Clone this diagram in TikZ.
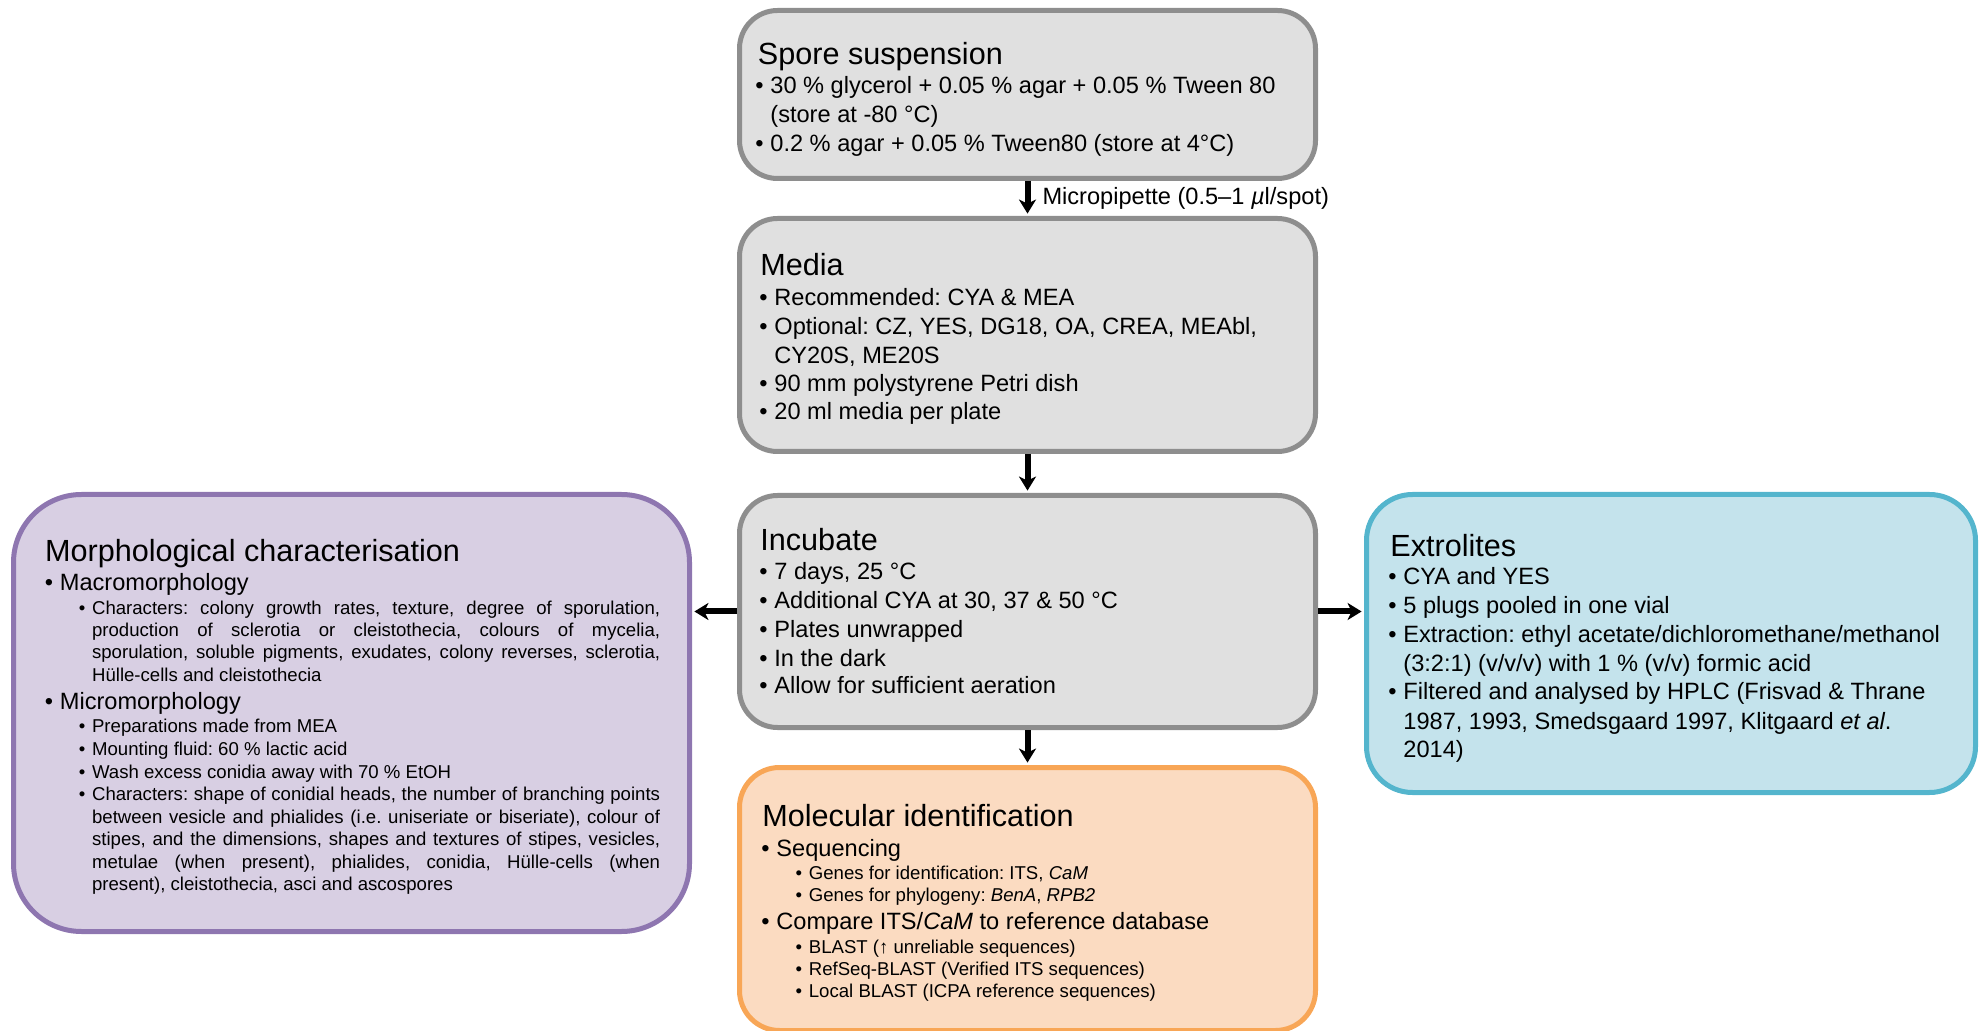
\documentclass[tikz,border=0pt]{standalone}
\usepackage{fontspec}
\setmainfont{Liberation Sans}
\usetikzlibrary{arrows.meta}
\definecolor{grayfill}{HTML}{E0E0E0}
\definecolor{grayline}{HTML}{8E8E8E}
\definecolor{purfill}{HTML}{D8CFE3}
\definecolor{purline}{HTML}{8E76B0}
\definecolor{bluefill}{HTML}{C4E3EC}
\definecolor{blueline}{HTML}{54B5CD}
\definecolor{orfill}{HTML}{FBDBC1}
\definecolor{orline}{HTML}{F8A656}
\frenchspacing
\newcommand\bul{\llap{\textbullet\hspace{0.29em}}}
\newcommand\sbul{\llap{\textbullet\hspace{0.36em}}}
\newcommand\jl[1]{\makebox[284pt][s]{#1}}
\tikzset{
  box/.style={draw, rounded corners=#1, line width=2.5pt, inner sep=0pt},
  ttl/.style={anchor=base west, inner sep=0pt, font=\fontsize{15.3}{18}\selectfont},
  bd/.style={anchor=base west, inner sep=0pt, font=\fontsize{11.8}{14}\selectfont},
  sm/.style={anchor=base west, inner sep=0pt, font=\fontsize{9.3}{11}\selectfont},
  arr/.style={line width=3pt, shorten >=1.2pt, -{Stealth[length=7pt,width=8.5pt,inset=2pt]}},
  lbl/.style={anchor=west, inner sep=0pt, xshift=6pt, font=\fontsize{11.8}{14}\selectfont}
}
\begin{document}
\begin{tikzpicture}[x=0.5pt,y=-0.5pt]
\useasboundingbox (0,0) rectangle (1987,1031);
% boxes
\node[box=19pt, fill=grayfill, draw=grayline, minimum width=288pt, minimum height=84pt] (spore) at (1027.5,94.5) {};
\node[box=19pt, fill=grayfill, draw=grayline, minimum width=288pt, minimum height=116.5pt] (media) at (1027.5,335) {};
\node[box=19pt, fill=grayfill, draw=grayline, minimum width=288pt, minimum height=116pt] (inc) at (1027.5,611.5) {};
\node[box=20pt, fill=orfill, draw=orline, minimum width=288pt, minimum height=131.5pt] (mol) at (1027.5,899) {};
\node[box=34pt, fill=purfill, draw=purline, minimum width=338pt, minimum height=218.5pt] (morph) at (351.5,713) {};
\node[box=23pt, fill=bluefill, draw=blueline, minimum width=304.5pt, minimum height=149pt] (ext) at (1671,643.5) {};
% arrows
\draw[arr] (spore) -- node[lbl] (lab) {Micropipette (0.5–1 \textit{µ}l/spot)} (media);
\draw[arr] (media) -- (inc);
\draw[arr] (inc) -- (mol);
\draw[arr] (inc.west) -- (inc.west -| morph.east);
\draw[arr] (inc.east) -- (inc.east -| ext.west);
% spore text
\node[ttl] (sp0) at (757.5,65) {Spore suspension};
\node[bd] (sp1) at (770,94) {\bul 30 \% glycerol + 0.05 \% agar + 0.05 \% Tween 80};
\node[bd] (sp2) at (770,123) {(store at -80 °C)};
\node[bd] (sp3) at (770,151.5) {\bul 0.2 \% agar + 0.05 \% Tween80 (store at 4°C)};
% media text
\node[ttl] (me0) at (760,276) {Media};
\node[bd] (me1) at (774,306) {\bul Recommended: CYA \& MEA};
\node[bd] (me2) at (774,335) {\bul Optional: CZ, YES, DG18, OA, CREA, MEAbl,};
\node[bd] (me3) at (774,364) {CY20S, ME20S};
\node[bd] (me4) at (774,392) {\bul 90 mm polystyrene Petri dish};
\node[bd] (me5) at (774,420) {\bul 20 ml media per plate};
% incubate text
\node[ttl] (in0) at (760,550.5) {Incubate};
\node[bd] (in1) at (774,579.5) {\bul 7 days, 25 °C};
\node[bd] (in2) at (774,608.7) {\bul Additional CYA at 30, 37 \& 50 °C};
\node[bd] (in3) at (774,638) {\bul Plates unwrapped};
\node[bd] (in4) at (774,666.5) {\bul In the dark};
\node[bd] (in5) at (774,694) {\bul Allow for sufficient aeration};
% molecular text
\node[ttl] (mo0) at (762,826.5) {Molecular identification};
\node[bd] (mo1) at (776,856) {\bul Sequencing};
\node[sm] (mo2) at (808.5,879.5) {\sbul Genes for identification: ITS, \textit{CaM}};
\node[sm] (mo3) at (808.5,901.5) {\sbul Genes for phylogeny: \textit{BenA}, \textit{RPB2}};
\node[bd] (mo4) at (776,929) {\bul Compare ITS/\textit{CaM} to reference database};
\node[sm] (mo5) at (808.5,953) {\sbul BLAST (↑ unreliable sequences)};
\node[sm] (mo6) at (808.5,975) {\sbul RefSeq-BLAST (Verified ITS sequences)};
\node[sm] (mo7) at (808.5,997.5) {\sbul Local BLAST (ICPA reference sequences)};
% extrolites text
\node[ttl] (ex0) at (1390,556.5) {Extrolites};
\node[bd] (ex1) at (1403,584.5) {\bul CYA and YES};
\node[bd] (ex2) at (1403,614) {\bul 5 plugs pooled in one vial};
\node[bd] (ex3) at (1403,643) {\bul Extraction: ethyl acetate/dichloromethane/methanol};
\node[bd] (ex4) at (1403,671.7) {(3:2:1) (v/v/v) with 1 \% (v/v) formic acid};
\node[bd] (ex5) at (1403,700) {\bul Filtered and analysed by HPLC (Frisvad \& Thrane};
\node[bd] (ex6) at (1403,729) {1987, 1993, Smedsgaard 1997, Klitgaard \textit{et al}.};
\node[bd] (ex7) at (1403,757) {2014)};
% morphological text
\node[ttl] (mp0) at (44.7,562) {Morphological characterisation};
\node[bd] (mp1) at (59.5,591) {\bul Macromorphology};
\node[sm] (mp2) at (91.7,614.5) {\sbul\jl{Characters: colony growth rates, texture, degree of sporulation,}};
\node[sm] (mp3) at (91.7,637) {\jl{production of sclerotia or cleistothecia, colours of mycelia,}};
\node[sm] (mp4) at (91.7,659) {\jl{sporulation, soluble pigments, exudates, colony reverses, sclerotia,}};
\node[sm] (mp5) at (91.7,681.5) {Hülle-cells and cleistothecia};
\node[bd] (mp6) at (59.5,710) {\bul Micromorphology};
\node[sm] (mp7) at (91.7,732.5) {\sbul Preparations made from MEA};
\node[sm] (mp8) at (91.7,755.5) {\sbul Mounting fluid: 60 \% lactic acid};
\node[sm] (mp9) at (91.7,778) {\sbul Wash excess conidia away with 70 \% EtOH};
\node[sm] (mp10) at (91.7,800.5) {\sbul\jl{Characters: shape of conidial heads, the number of branching points}};
\node[sm] (mp11) at (91.7,823) {\jl{between vesicle and phialides (i.e. uniseriate or biseriate), colour of}};
\node[sm] (mp12) at (91.7,845.5) {\jl{stipes, and the dimensions, shapes and textures of stipes, vesicles,}};
\node[sm] (mp13) at (91.7,868) {\jl{metulae (when present), phialides, conidia, Hülle-cells (when}};
\node[sm] (mp14) at (91.7,890.5) {present), cleistothecia, asci and ascospores};
\end{tikzpicture}
\end{document}
